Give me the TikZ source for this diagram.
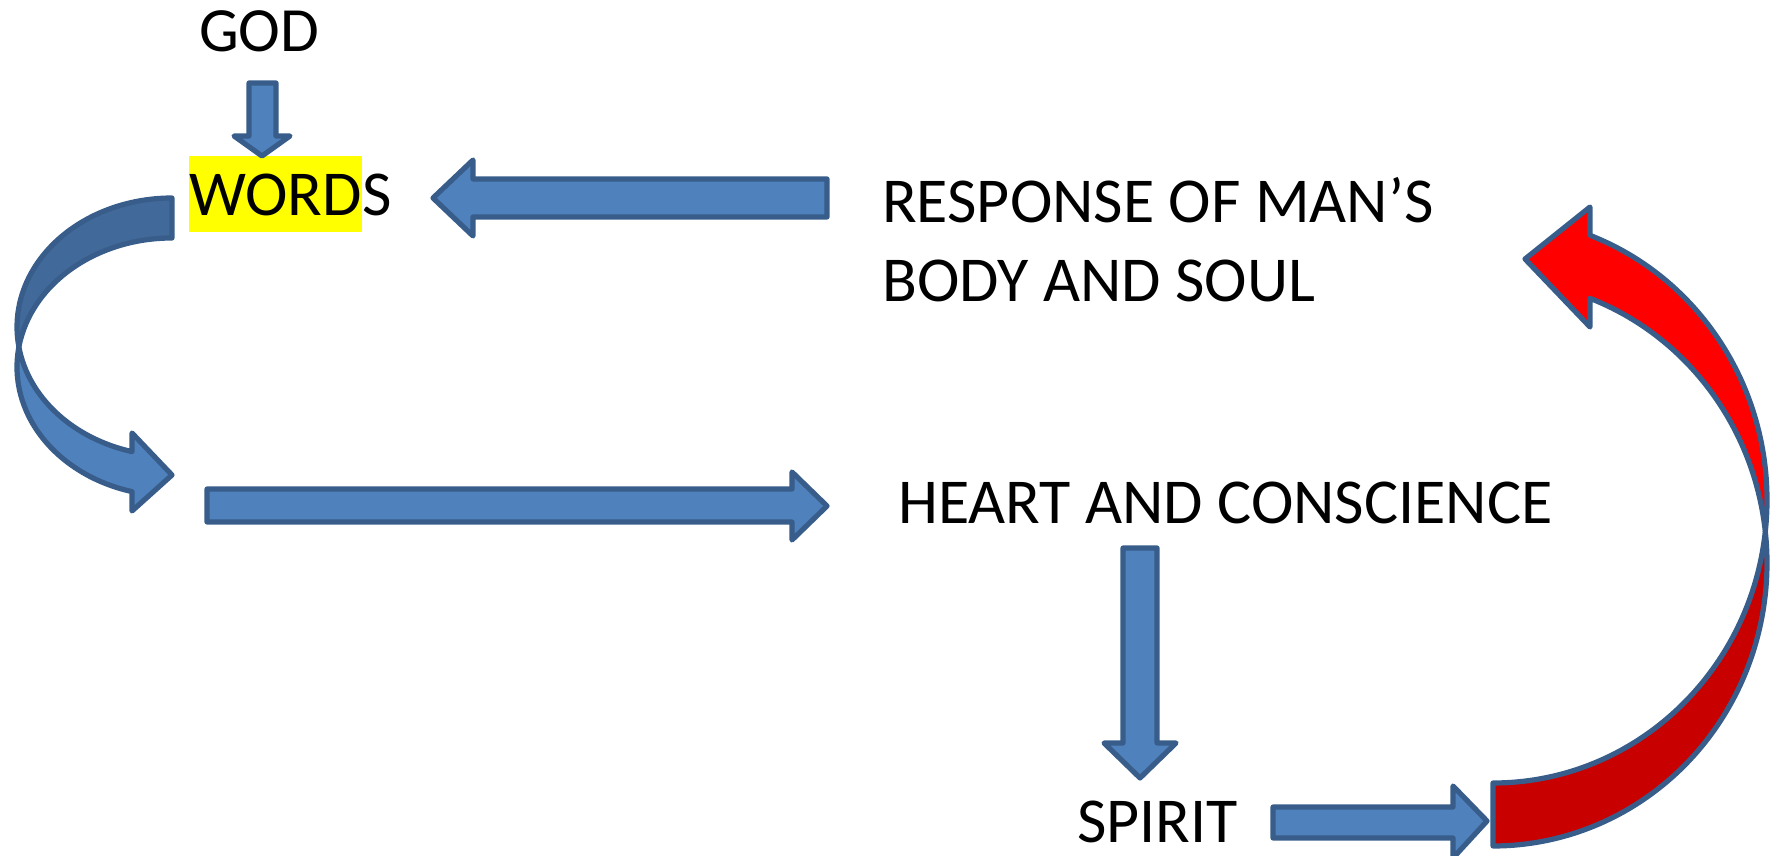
\documentclass[tikz,border=0pt]{standalone}
\usepackage{fontspec}
\setmainfont{Carlito}
\definecolor{barfill}{HTML}{4F81BD}
\definecolor{bardark}{HTML}{41699A}
\definecolor{barline}{HTML}{385D8A}
\definecolor{redfront}{HTML}{FF0000}
\definecolor{redback}{HTML}{C80000}
\definecolor{hilite}{HTML}{FFFF00}
\tikzset{
  txt/.style={inner sep=0pt, anchor=base west, text=black, font=\fontsize{64}{77}\selectfont},
  blk/.style={fill=barfill, draw=barline, line width=5.2pt, line join=round},
  blkback/.style={fill=bardark, draw=barline, line width=5.2pt, line join=round},
  redfr/.style={fill=redfront, draw=barline, line width=5.2pt, line join=round},
  redbk/.style={fill=redback, draw=barline, line width=5.2pt, line join=round}
}
\begin{document}
\begin{tikzpicture}[x=1pt,y=1pt]
\useasboundingbox (0,0) rectangle (1774,855);
\clip (0,0) rectangle (1774,855);

% texts
\node[txt, font=\fontsize{63}{76}\selectfont] (god) at (199,803) {GOD};
\node[txt, fill=hilite, text height=60pt, text depth=16pt] (word) at (189,639) {WORD};
\node[txt] (wordS) at (word.base east) {S};
\node[txt] (resp) at (882,632) {RESPONSE OF MAN’S};
\node[txt] (body) at (882,553) {BODY AND SOUL};
\node[txt] (heart) at (898,332) {HEART AND CONSCIENCE};
\node[txt] (spirit) at (1077,13) {SPIRIT};

% GOD -> WORDS
\draw[blk] (249,772) -- (276,772) -- (276,719) -- (290,719) -- (262,699) -- (234,719) -- (249,719) -- cycle;

% RESPONSE -> WORDS
\draw[blk] (827,676) -- (473,676) -- (473,695) -- (433,657) -- (473,619) -- (473,638) -- (827,638) -- cycle;

% middle arrow -> HEART
\draw[blk] (207,366) -- (792,366) -- (792,383) -- (827,349) -- (792,315) -- (792,333) -- (207,333) -- cycle;

% HEART -> SPIRIT
\draw[blk] (1123,307) -- (1157,307) -- (1157,112) -- (1176,112) -- (1140,77) -- (1104,112) -- (1123,112) -- cycle;

% SPIRIT -> red arrow
\draw[blk] (1273,48) -- (1453,48) -- (1453,69) -- (1487,34) -- (1453,-3) -- (1453,17) -- (1273,17) -- cycle;

% curved blue arrow (left)
\draw[blkback] (172,657) arc[start angle=90, end angle=188.92, x radius=155pt, y radius=129pt]
  -- ([shift={(172,488)}]171.08:155 and 129) arc[start angle=171.08, end angle=90, x radius=155pt, y radius=129pt] -- cycle;
\draw[blk] ([shift={(172,488)}]171.08:155 and 129) arc[start angle=171.08, end angle=255.04, x radius=155pt, y radius=129pt]
  -- (132,344) -- (172,380) -- (132,422)
  -- ([shift={(172,528)}]255.04:155 and 129) arc[start angle=255.04, end angle=188.92, x radius=155pt, y radius=129pt] -- cycle;

% curved red arrow (right)
\draw[redbk] ([shift={(1493,292)}]6.39:274 and 283) arc[start angle=6.39, end angle=-90, x radius=274pt, y radius=283pt]
  -- (1493,72) arc[start angle=-90, end angle=-6.39, x radius=274pt, y radius=283pt] -- cycle;
\draw[redfr] (1590,648) -- (1525,596) -- (1590,528)
  -- ([shift={(1493,292)}]69.27:274 and 283) arc[start angle=69.27, end angle=6.39, x radius=274pt, y radius=283pt]
  -- ([shift={(1493,355)}]-6.39:274 and 283) arc[start angle=-6.39, end angle=69.27, x radius=274pt, y radius=283pt] -- cycle;
\end{tikzpicture}
\end{document}
